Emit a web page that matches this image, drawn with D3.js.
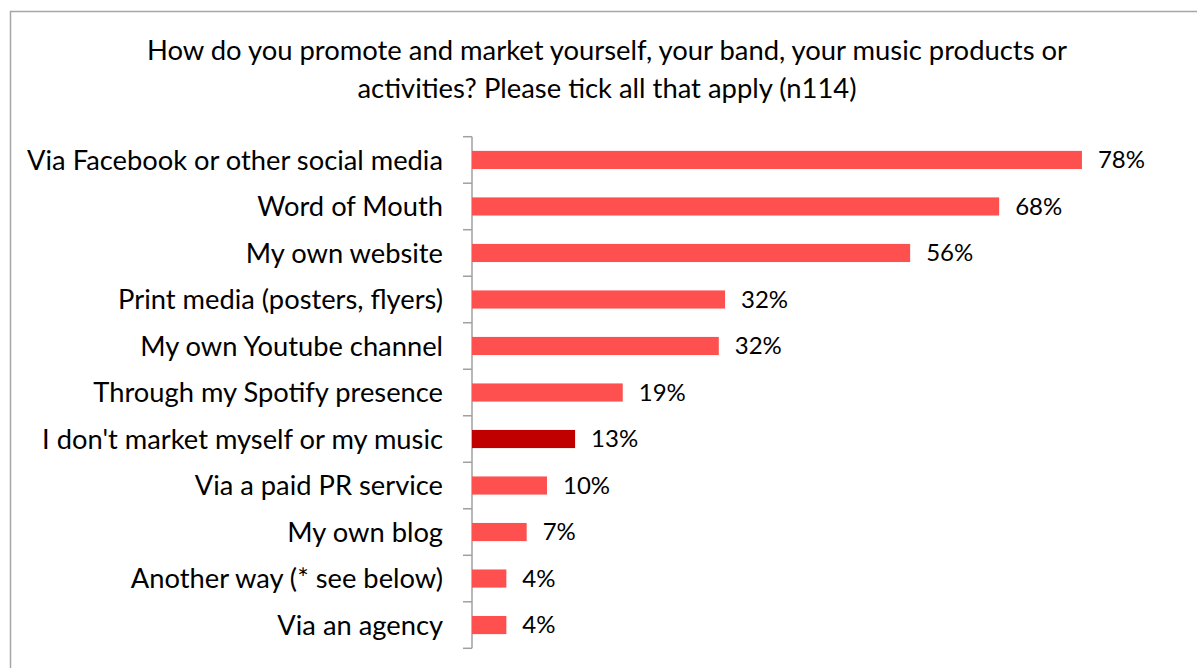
<!DOCTYPE html>
<html>
<head>
<meta charset="utf-8">
<script src="https://cdn.jsdelivr.net/npm/d3@7"></script>
<style>
  html, body { margin: 0; padding: 0; background: #fff; }
  svg { display: block; }
  text { font-family: Lato, "Open Sans", sans-serif; fill: #000; }
</style>
</head>
<body>
<svg id="chart" width="1197" height="668"></svg>
<script>
// Survey question, answered by 114 respondents (multiple answers allowed)
const titleLines = [
  "How do you promote and market yourself, your band, your music products or",
  "activities? Please tick all that apply (n114)"
];

const categories = [
  "Via Facebook or other social media",
  "Word of Mouth",
  "My own website",
  "Print media (posters, flyers)",
  "My own Youtube channel",
  "Through my Spotify presence",
  "I don't market myself or my music",
  "Via a paid PR service",
  "My own blog",
  "Another way (* see below)",
  "Via an agency"
];

// Share of respondents, in percent
const shares = [78.1, 67.5, 56.1, 32.4, 31.6, 19.3, 13.2, 9.6, 7.0, 4.4, 4.4];

// The "no marketing" answer is drawn in a darker red
const highlighted = ["I don't market myself or my music"];

const svg = d3.select("#chart");
const W = 1197, H = 668;

// Outer frame (runs off the right and bottom edges)
svg.append("rect")
  .attr("x", 10.5).attr("y", 11.5)
  .attr("width", W).attr("height", H)
  .attr("fill", "none")
  .attr("stroke", "#a6a6a6")
  .attr("stroke-width", 1.5);

// Title
svg.append("g")
  .selectAll("text")
  .data(titleLines)
  .join("text")
  .attr("x", 607)
  .attr("y", (d, i) => 60 + i * 38)
  .attr("text-anchor", "middle")
  .attr("font-size", 27.4)
  .text(d => d);

const x0 = 472;
const x = d3.scaleLinear().domain([0, 100]).range([x0, x0 + 781]);

const y = d3.scaleBand()
  .domain(categories)
  .range([136.7, 648.3])
  .paddingInner(0.61)
  .paddingOuter(0.305);

// Category axis: vertical line with ticks on the band boundaries
const axis = svg.append("g");
const bounds = d3.range(categories.length + 1).map(i => y.range()[0] + i * y.step());
axis.append("line")
  .attr("x1", x0).attr("x2", x0)
  .attr("y1", bounds[0]).attr("y2", bounds[bounds.length - 1])
  .attr("stroke", "#a0a0a0").attr("stroke-width", 1.5);
axis.selectAll("line.tick")
  .data(bounds)
  .join("line")
  .attr("class", "tick")
  .attr("x1", x0 - 9).attr("x2", x0)
  .attr("y1", d => d).attr("y2", d => d)
  .attr("stroke", "#a0a0a0").attr("stroke-width", 1.5);

const rows = categories.map((c, i) => ({ cat: c, val: shares[i] }));

// Bars
svg.append("g")
  .selectAll("rect")
  .data(rows)
  .join("rect")
  .attr("x", x(0))
  .attr("y", d => y(d.cat))
  .attr("width", d => x(d.val) - x(0))
  .attr("height", y.bandwidth())
  .attr("fill", d => highlighted.includes(d.cat) ? "#c00000" : "#ff5050");

// Category labels
svg.append("g")
  .selectAll("text")
  .data(rows)
  .join("text")
  .attr("x", 443)
  .attr("y", d => y(d.cat) + y.bandwidth() / 2)
  .attr("dy", "0.35em")
  .attr("text-anchor", "end")
  .attr("font-size", 27.3)
  .text(d => d.cat);

// Value labels
svg.append("g")
  .selectAll("text")
  .data(rows)
  .join("text")
  .attr("x", d => x(d.val) + 16)
  .attr("y", d => y(d.cat) + y.bandwidth() / 2)
  .attr("dy", "0.35em")
  .attr("font-size", 24)
  .text(d => Math.round(d.val) + "%");
</script>
</body>
</html>
